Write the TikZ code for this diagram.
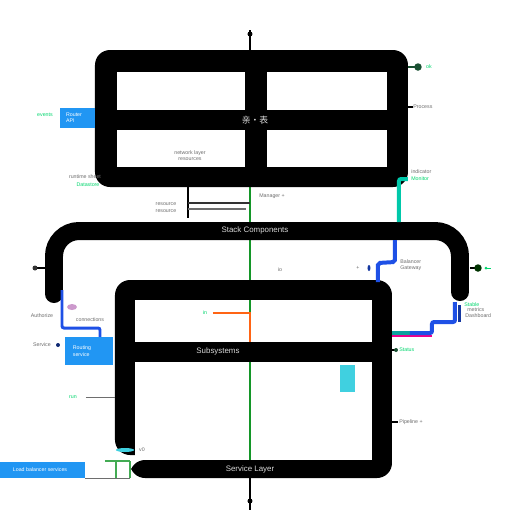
\documentclass[tikz,border=0pt]{standalone}
\usepackage{fontspec}
\setmainfont{Liberation Sans}
\newfontfamily\cjk{Noto Sans CJK SC}
\definecolor{lblgreen}{RGB}{0,215,110}
\definecolor{lngreen}{RGB}{20,150,40}
\definecolor{tealc}{RGB}{0,200,170}
\definecolor{bluel}{RGB}{30,80,230}
\definecolor{orangel}{RGB}{255,100,20}
\definecolor{boxblue}{RGB}{33,150,243}
\definecolor{cyanbox}{RGB}{64,208,224}
\definecolor{darkmk}{RGB}{25,80,50}
\definecolor{lblgray}{RGB}{110,110,110}
\tikzset{
  lbl/.style={font=\fontsize{3}{3.5}\selectfont, text=lblgray, inner sep=0pt},
  glbl/.style={font=\fontsize{3}{3.5}\selectfont, text=lblgreen, inner sep=0pt},
  wtxt/.style={font=\fontsize{4.5}{5.5}\selectfont, text=white!85!black, inner sep=0pt},
  btxt/.style={font=\fontsize{3}{3.6}\selectfont, text=white, align=left, inner sep=0pt},
  frame/.style={fill=black, rounded corners=0.3cm},
  win/.style={fill=white},
  conn/.style={line width=0.08cm, rounded corners=0.04cm},
  thin/.style={line width=0.02cm, draw=lblgray},
  mk/.style={fill=darkmk, inner sep=0pt, minimum size=0.1cm, circle}
}
\begin{document}
\begin{tikzpicture}[x=0.02cm,y=-0.02cm]
\useasboundingbox (0,0) rectangle (512,512);
\fill[white] (0,0) rectangle (512,512);

% ---------- centre line ----------
\coordinate (ctop) at (250,30);
\coordinate (cbot) at (250,510);
\draw[line width=0.04cm] (ctop) -- (250,52);
\fill (250,34) circle (2.5);
\draw[line width=0.04cm, lngreen] (250,185) -- (250,224);
\draw[line width=0.04cm, lngreen] (250,238) -- (250,282);
\draw[line width=0.04cm] (250,476) -- (cbot);
\fill (250,501) circle (2.5);

% ---------- top box ----------
\fill[frame] (95,50) rectangle (408,187);
\fill[win] (117,72) rectangle (245,110);
\fill[win] (267,72) rectangle (387,110);
\fill[win] (117,130) rectangle (245,167);
\fill[win] (267,130) rectangle (387,167);
\node[wtxt, font=\fontsize{5}{6}\selectfont\cjk] (ttop) at (255,120) {亲·表};
\node[lbl] (tl1) at (190,153) {network layer};
\node[lbl] (tl2) at (190,159) {resources};

% ---------- middle inverted U ----------
\draw[line width=0.36cm, rounded corners=0.5cm, line cap=round] (54,294) -- (54,231) -- (460,231) -- (460,292);
\node[wtxt] (tmid) at (255,230) {Stack Components};

% ---------- lower box ----------
\fill[frame] (115,280) rectangle (392,455);
\fill[rounded corners=0.3cm] (372,420) -- (392,420) -- (392,478) -- (130,478) -- (130,460) -- (372,460) -- cycle;
\fill (372,420) rectangle (392,440);
\fill[win] (135,300) rectangle (372,342);
\fill[win] (135,362) rectangle (372,460);
\draw[line width=0.04cm, lngreen] (250,362) -- (250,460);
\draw[line width=0.04cm, lngreen] (250,300) -- (250,313);
\draw[line width=0.05cm, orangel] (213,313) -- (250,313) -- (250,342);
\node[wtxt] (tlow1) at (218,351) {Subsystems};
\node[wtxt] (tlow2) at (250,469) {Service Layer};
\fill[cyanbox] (340,365) rectangle (355,392);
\node[glbl] (lin) at (205,313) {in};

% ---------- top-middle connectors ----------
\draw[line width=0.05cm] (188,187) -- (188,218);
\draw[line width=0.03cm, black!80] (188,203) -- (250,203);
\draw[line width=0.03cm, lblgray] (188,209) -- (246,209);
\node[lbl] (l205) at (166,204) {resource};
\node[lbl] (l212) at (166,211) {resource};
\node[lbl] (l196) at (272,196) {Manager +};

% ---------- top left ----------
\fill[boxblue] (60,108) rectangle (95,128);
\node[btxt] (bb1) at (74,118) {Router\\API};
\node[glbl] (lev) at (45,115) {events};
\node[lbl] (lrt) at (85,177) {runtime sheet};
\node[glbl] (lds) at (88,185) {Datastore};

% ---------- top right ----------
\draw[line width=0.03cm, darkmk] (408,67) -- (418,67);
\node[mk, minimum size=0.15cm] (m1) at (418,67) {};
\node[glbl] (lok) at (429,67) {ok};
\draw[line width=0.03cm] (408,107) -- (413,107);
\node[lbl, anchor=west] (lpr) at (413,107) {Process};
\draw[conn, tealc] (408,179) -| (399,222);
\node[lbl, anchor=west] (lind) at (411,172) {indicator};
\node[glbl, anchor=west] (lmon) at (411,179) {Monitor};

% ---------- middle right ----------
\draw[conn, bluel] (395,240) -- (395,262) -- (378,263) -- (378,282);
\node[lbl, anchor=west] (lbal) at (400,262) {Balancer};
\node[lbl, anchor=west] (lgw) at (400,268) {Gateway};
\node[lbl] (lplus) at (358,268) {+};
\fill[bluel!70!black] (369,268) ellipse (1.5 and 3);
\node[lbl] (lio) at (280,270) {io};
\draw[line width=0.03cm] (470,268) -- (478,268);
\node[mk, fill=black!80!green, minimum size=0.15cm] (m2) at (478,268) {};
\fill[lblgreen] (486,268) circle (1.5);
\draw[line width=0.02cm, lblgreen] (487,268) -- (491,268);
\draw[line width=0.03cm] (35,268) -- (45,268);
\node[mk, fill=black!80, minimum size=0.1cm] (m3) at (35,268) {};

% ---------- lower right gradient connector ----------
\draw[line width=0.03cm, magenta] (392,336) -- (432,336);
\draw[conn, lblgreen!60!bluel] (392,333) -- (410,333);
\draw[conn, bluel] (410,333) -- (432,333) -- (432,322) -- (455,322) -- (455,302);
\draw[line width=0.06cm, bluel!70!black] (460,305) -- (460,322);
\node[glbl, anchor=west] (lst) at (464,305) {Stable};
\node[lbl, anchor=west] (lmet) at (467,310) {metrics};
\node[lbl, anchor=west] (ldash) at (465,316) {Dashboard};
\draw[line width=0.03cm] (392,350) -- (396,350);
\node[mk, minimum size=0.08cm] (m4) at (396,350) {};
\node[glbl, anchor=west] (lstat) at (399,350) {Status};
\draw[line width=0.03cm] (392,422) -- (398,422);
\node[lbl, anchor=west] (lpipe) at (399,422) {Pipeline +};

% ---------- lower left ----------
\draw[conn, bluel, line width=0.06cm] (62,290) -- (62,328) -- (100,328) -- (100,338);
\fill[violet!40] (72,307) ellipse (5 and 3);
\node[lbl] (lauth) at (42,316) {Authorize};
\node[lbl] (lconn) at (90,320) {connections};
\fill[boxblue] (65,337) rectangle (113,365);
\node[btxt] (bb2) at (82,351) {Routing\\service};
\node[lbl] (lsvc) at (42,345) {Service};
\node[mk, fill=bluel!50!black, minimum size=0.08cm] (m5) at (58,345) {};
\node[glbl] (lrun) at (73,397) {run};
\draw[thin] (86,397) -- (115,397);

% ---------- bottom left ----------
\fill[boxblue] (0,462) rectangle (85,478);
\node[btxt] (bb3) at (40,470) {Load balancer services};
\draw[thin] (85,478) -- (130,478);
\draw[line width=0.03cm, lngreen!80] (105,461) -- (130,461);
\draw[line width=0.03cm, lngreen!80] (116,461) -- (116,478);
\draw[line width=0.03cm, lngreen!80] (130,461) -- (130,478);
\fill[cyanbox] (125,450) ellipse (9 and 2);
\node[lbl] (lv0) at (142,450) {v0};

\end{tikzpicture}
\end{document}
